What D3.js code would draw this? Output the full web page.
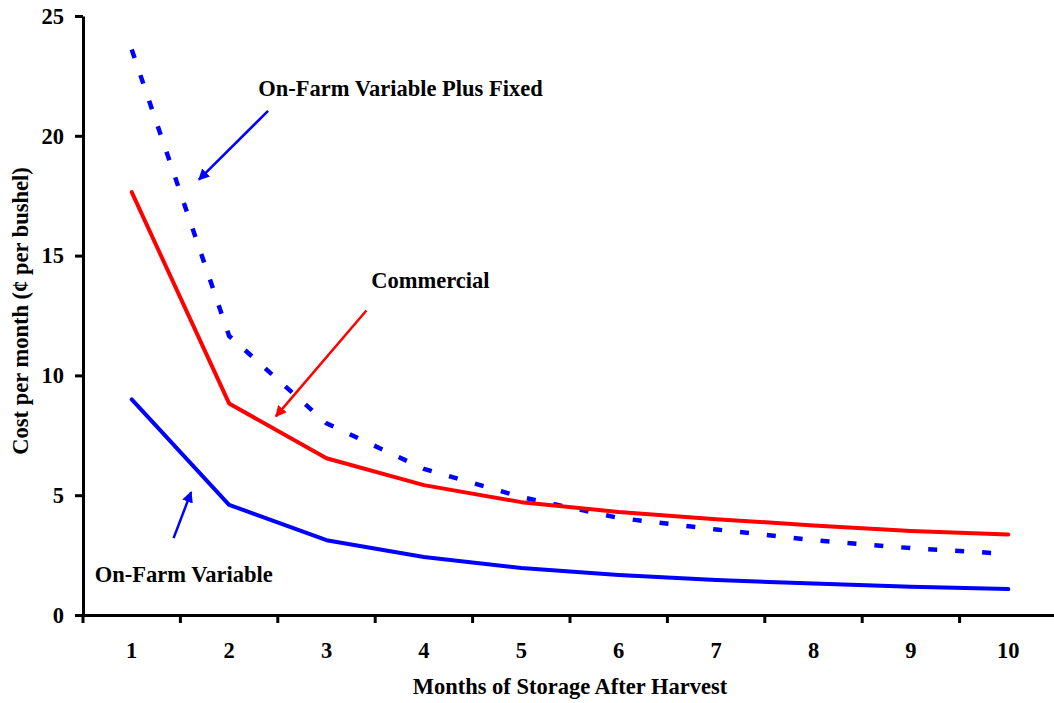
<!DOCTYPE html>
<html>
<head>
<meta charset="utf-8">
<script src="https://cdn.jsdelivr.net/npm/d3@7"></script>
<style>
  html, body { margin: 0; padding: 0; background: #fff; }
  svg { display: block; }
  text { font-family: "Liberation Serif", "Times New Roman", serif; font-weight: bold; fill: #000; }
</style>
</head>
<body>
<svg id="chart" width="1054" height="703"></svg>
<script>
// ---- data ----
const months = [1, 2, 3, 4, 5, 6, 7, 8, 9, 10];
const onFarmVariable = [9.0, 4.6, 3.12, 2.42, 1.96, 1.67, 1.46, 1.31, 1.18, 1.08];
const commercial = [17.65, 8.83, 6.54, 5.42, 4.71, 4.3, 4.0, 3.74, 3.51, 3.36];
const onFarmVarPlusFixed = [23.6, 11.65, 8.0, 6.1, 4.92, 4.05, 3.57, 3.12, 2.79, 2.55];
const yTicks = [0, 5, 10, 15, 20, 25];
const xTitle = "Months of Storage After Harvest";
const yTitle = "Cost per month (\u00a2 per bushel)";
// annotations in data units (month, value)
const labels = [
  { text: "On-Farm Variable Plus Fixed", m: 2.30, v: 21.67 },
  { text: "Commercial", m: 3.46, v: 13.63 },
  { text: "On-Farm Variable", m: 0.62, v: 1.38 }
];
const arrows = [
  { m1: 2.40, v1: 21.04, m2: 1.69, v2: 18.17, color: "#0000ff" },
  { m1: 3.41, v1: 12.71, m2: 2.48, v2: 8.29, color: "#ff0000" },
  { m1: 1.43, v1: 3.21, m2: 1.61, v2: 5.13, color: "#0000ff" }
];

const FS = "22.5px";

// ---- scales ----
const svg = d3.select("#chart");
const x = d3.scaleBand().domain(months).range([83, 1057]).padding(0);
const bw = x.bandwidth();
const cx = m => x(m) + bw / 2;
const mx = m => x(1) + bw / 2 + (m - 1) * bw; // fractional month position
const y = d3.scaleLinear().domain([0, 25]).range([615, 16]);

// ---- axes ----
const yAxis = d3.axisLeft(y).tickValues(yTicks).tickSize(8).tickSizeOuter(0).tickPadding(11);
const gy = svg.append("g").attr("transform", "translate(83,0)").call(yAxis);
gy.select(".domain").attr("stroke", "#000").attr("stroke-width", 3);
gy.selectAll(".tick line").attr("stroke", "#000").attr("stroke-width", 3);
gy.selectAll(".tick text").style("font-size", FS).style("font-family", "Liberation Serif").style("font-weight", "bold");

const xAxis = d3.axisBottom(x).tickSize(0).tickSizeOuter(0).tickPadding(27);
const gx = svg.append("g").attr("transform", "translate(0,615)").call(xAxis);
gx.select(".domain").attr("stroke", "#000").attr("stroke-width", 3);
gx.selectAll(".tick text").style("font-size", FS).style("font-family", "Liberation Serif").style("font-weight", "bold");
// tick marks at category boundaries
gx.selectAll(".bound").data(months).enter().append("line")
  .attr("x1", d => x(d)).attr("x2", d => x(d))
  .attr("y1", 0).attr("y2", 8)
  .attr("stroke", "#000").attr("stroke-width", 3);

// axis titles
svg.append("text").attr("x", 570).attr("y", 694).attr("text-anchor", "middle")
  .style("font-size", FS).text(xTitle);
svg.append("text").attr("transform", "translate(28,311) rotate(-90)").attr("text-anchor", "middle")
  .style("font-size", FS).text(yTitle);

// ---- lines ----
const line = d3.line().x((d, i) => cx(months[i])).y(d => y(d));
svg.append("path").datum(onFarmVarPlusFixed).attr("d", line)
  .attr("fill", "none").attr("stroke", "#0000ff").attr("stroke-width", 4.5)
  .attr("stroke-dasharray", "9,18");
svg.append("path").datum(commercial).attr("d", line)
  .attr("fill", "none").attr("stroke", "#ff0000").attr("stroke-width", 4)
  .attr("stroke-linejoin", "round").attr("stroke-linecap", "round");
svg.append("path").datum(onFarmVariable).attr("d", line)
  .attr("fill", "none").attr("stroke", "#0000ff").attr("stroke-width", 4)
  .attr("stroke-linejoin", "round").attr("stroke-linecap", "round");

// ---- annotations ----
const defs = svg.append("defs");
["#0000ff", "#ff0000"].forEach((c, i) => {
  defs.append("marker").attr("id", "ah" + i)
    .attr("viewBox", "0 0 10 10").attr("refX", 9).attr("refY", 5)
    .attr("markerWidth", 4.5).attr("markerHeight", 4.5).attr("markerUnits", "strokeWidth")
    .attr("orient", "auto")
    .append("path").attr("d", "M0,0 L10,5 L0,10 Z").attr("fill", c);
});
arrows.forEach(a => {
  svg.append("line")
    .attr("x1", mx(a.m1)).attr("y1", y(a.v1))
    .attr("x2", mx(a.m2)).attr("y2", y(a.v2))
    .attr("stroke", a.color).attr("stroke-width", 2.5)
    .attr("marker-end", a.color === "#0000ff" ? "url(#ah0)" : "url(#ah1)");
});
labels.forEach(l => {
  svg.append("text").attr("x", mx(l.m)).attr("y", y(l.v))
    .style("font-size", FS).text(l.text);
});
</script>
</body>
</html>
